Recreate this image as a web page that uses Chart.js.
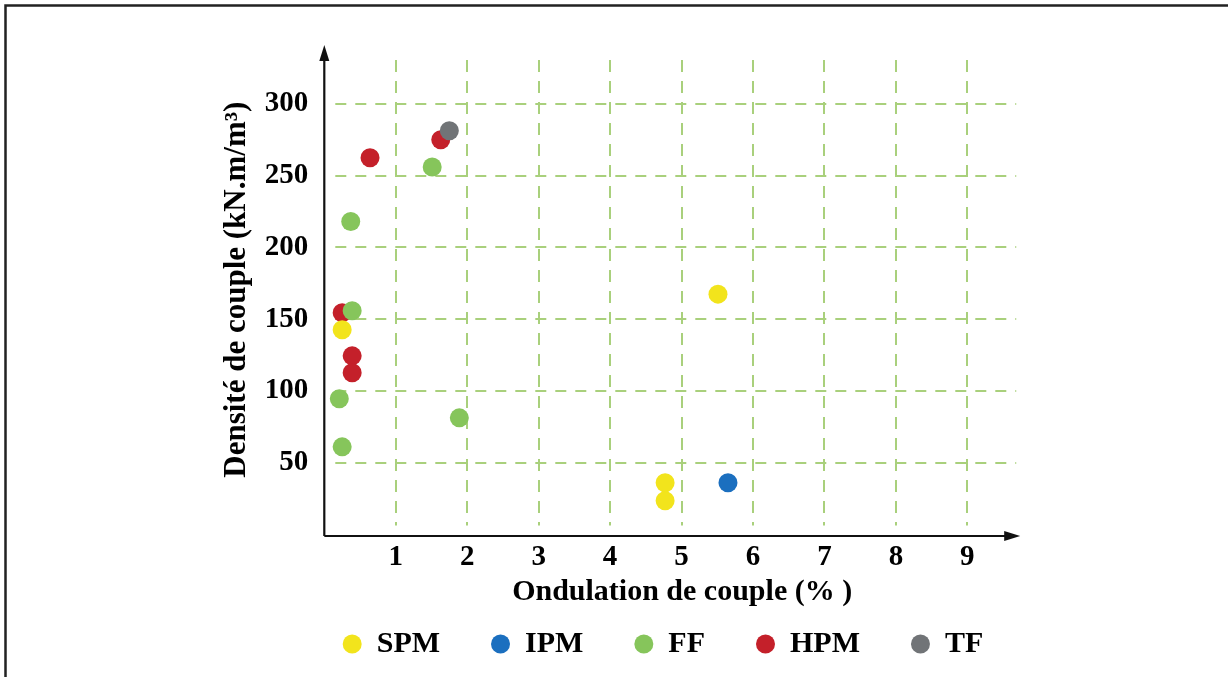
<!DOCTYPE html>
<html>
<head>
<meta charset="utf-8">
<script src="https://cdn.jsdelivr.net/npm/chart.js@4"></script>
<style>
  html, body { margin: 0; padding: 0; background: #ffffff; }
  #wrap { position: relative; width: 1228px; height: 677px; }
</style>
</head>
<body>
<div id="wrap"><canvas id="c" width="1228" height="677"></canvas></div>
<script>
// ---- data ----
const seriesNames = ['SPM', 'IPM', 'FF', 'HPM', 'TF'];
const seriesColors = ['#f2e41c', '#1b6fbf', '#86c55b', '#c4202a', '#717477'];
const spmX = [0.25, 5.51, 4.77, 4.77];
const spmY = [142.6, 167.4, 36, 23.5];
const ipmX = [5.65];
const ipmY = [36];
const ffX = [0.37, 1.51, 0.39, 0.21, 0.25, 1.89];
const ffY = [218, 256, 155.8, 94.5, 61, 81.2];
const hpmX = [0.64, 1.63, 0.25, 0.39, 0.39];
const hpmY = [262.5, 275, 154.5, 124.4, 112.6];
const tfX = [1.75];
const tfY = [281.3];
const xTickValues = [1, 2, 3, 4, 5, 6, 7, 8, 9];
const yTickValues = [50, 100, 150, 200, 250, 300];
const xTitle = 'Ondulation de couple (% )';
const yTitle = 'Densité de couple (kN.m/m³)';

const X_MIN = 0, X_MAX = 10.017, X_ARROW = 9.74;
const Y_MIN = 0, Y_MAX = 341;

const toPts = (xs, ys) => xs.map((x, i) => ({ x: x, y: ys[i] }));
const seriesX = [spmX, ipmX, ffX, hpmX, tfX];
const seriesY = [spmY, ipmY, ffY, hpmY, tfY];
const drawOrder = [2, 3, 1, 4, 0];

const FONT = '"Liberation Serif", "Times New Roman", serif';

const framePlugin = {
  id: 'frame',
  beforeDraw(chart) {
    const ctx = chart.ctx;
    ctx.save();
    ctx.fillStyle = '#ffffff';
    ctx.fillRect(0, 0, chart.width, chart.height);
    ctx.strokeStyle = '#222222';
    ctx.lineWidth = 2.5;
    ctx.beginPath();
    ctx.moveTo(5.5, 677);
    ctx.lineTo(5.5, 5.5);
    ctx.lineTo(1228, 5.5);
    ctx.stroke();
    ctx.restore();
  }
};

const gridPlugin = {
  id: 'dashgrid',
  beforeDatasetsDraw(chart) {
    const ctx = chart.ctx;
    const xs = chart.scales.x, ys = chart.scales.y;
    const a = chart.chartArea;
    const xEnd = xs.getPixelForValue(X_ARROW);
    ctx.save();
    ctx.strokeStyle = '#a9d07c';
    ctx.lineWidth = 2;
    ctx.setLineDash([12, 9]);
    xTickValues.forEach(v => {
      const px = Math.round(xs.getPixelForValue(v));
      ctx.beginPath();
      ctx.moveTo(px, a.top + 15);
      ctx.lineTo(px, a.bottom - 9);
      ctx.stroke();
    });
    ctx.setLineDash([11, 9]);
    yTickValues.forEach(v => {
      const py = Math.round(ys.getPixelForValue(v));
      ctx.beginPath();
      ctx.moveTo(a.left + 11, py);
      ctx.lineTo(xEnd - 4, py);
      ctx.stroke();
    });
    ctx.restore();
  },
  afterDatasetsDraw(chart) {
    const ctx = chart.ctx;
    const a = chart.chartArea;
    const xs = chart.scales.x;
    const ax = a.left;
    const ay = a.bottom + 1.6;
    const xEnd = xs.getPixelForValue(X_ARROW);
    ctx.save();
    ctx.strokeStyle = '#111111';
    ctx.fillStyle = '#111111';
    ctx.lineWidth = 2.2;
    ctx.beginPath();
    ctx.moveTo(ax, ay);
    ctx.lineTo(ax, a.top + 12);
    ctx.moveTo(ax, ay);
    ctx.lineTo(xEnd - 10, ay);
    ctx.stroke();
    ctx.beginPath();
    ctx.moveTo(ax, a.top);
    ctx.lineTo(ax - 5, a.top + 16);
    ctx.lineTo(ax + 5, a.top + 16);
    ctx.closePath();
    ctx.fill();
    ctx.beginPath();
    ctx.moveTo(xEnd, ay);
    ctx.lineTo(xEnd - 16, ay - 5);
    ctx.lineTo(xEnd - 16, ay + 5);
    ctx.closePath();
    ctx.fill();
    ctx.restore();
  }
};

const datasets = seriesNames.map((name, i) => ({
  label: name,
  data: toPts(seriesX[i], seriesY[i]),
  backgroundColor: seriesColors[i],
  borderColor: seriesColors[i],
  borderWidth: 0,
  pointRadius: 9.5,
  pointHoverRadius: 9.5,
  pointStyle: 'circle',
  order: drawOrder[i]
}));

new Chart(document.getElementById('c'), {
  type: 'scatter',
  data: { datasets },
  plugins: [framePlugin, gridPlugin],
  options: {
    responsive: false,
    animation: false,
    events: [],
    layout: { padding: { left: 260, right: 162, top: 45, bottom: 8 } },
    plugins: {
      tooltip: { enabled: false },
      legend: {
        position: 'bottom',
        align: 'center',
        labels: {
          usePointStyle: true,
          pointStyle: 'circle',
          pointStyleWidth: 19,
          boxHeight: 13.4,
          padding: 51,
          color: '#000000',
          font: { family: FONT, size: 30, weight: 'bold' },
          sort: (a, b) => a.datasetIndex - b.datasetIndex
        }
      }
    },
    scales: {
      x: {
        type: 'linear',
        min: X_MIN,
        max: X_MAX,
        afterBuildTicks: s => { s.ticks = xTickValues.map(v => ({ value: v })); },
        afterFit: s => { s.height = 43.6; },
        grid: { display: false, drawTicks: false },
        border: { display: false },
        ticks: {
          padding: 6,
          color: '#000000',
          font: { family: FONT, size: 29, weight: 'bold' },
          maxRotation: 0,
          autoSkip: false
        },
        title: {
          display: true,
          text: xTitle,
          color: '#000000',
          font: { family: FONT, size: 30, weight: 'bold' },
          padding: { top: 0, bottom: -32 }
        }
      },
      y: {
        type: 'linear',
        min: Y_MIN,
        max: Y_MAX,
        afterBuildTicks: s => { s.ticks = yTickValues.map(v => ({ value: v })); },
        afterFit: s => { s.width = 64.3; },
        grid: { display: false, drawTicks: false },
        border: { display: false },
        ticks: {
          padding: 16,
          color: '#000000',
          font: { family: FONT, size: 29, weight: 'bold' },
          autoSkip: false
        },
        title: {
          display: true,
          text: yTitle,
          color: '#000000',
          font: { family: FONT, size: 31, weight: 'bold' },
          padding: { top: -41.6, bottom: 0 }
        }
      },
      yRightSpacer: {
        type: 'linear',
        position: 'right',
        display: true,
        afterFit: s => { s.width = 26; },
        grid: { display: false, drawTicks: false },
        border: { display: false },
        ticks: { display: false }
      }
    }
  }
});
</script>
</body>
</html>
